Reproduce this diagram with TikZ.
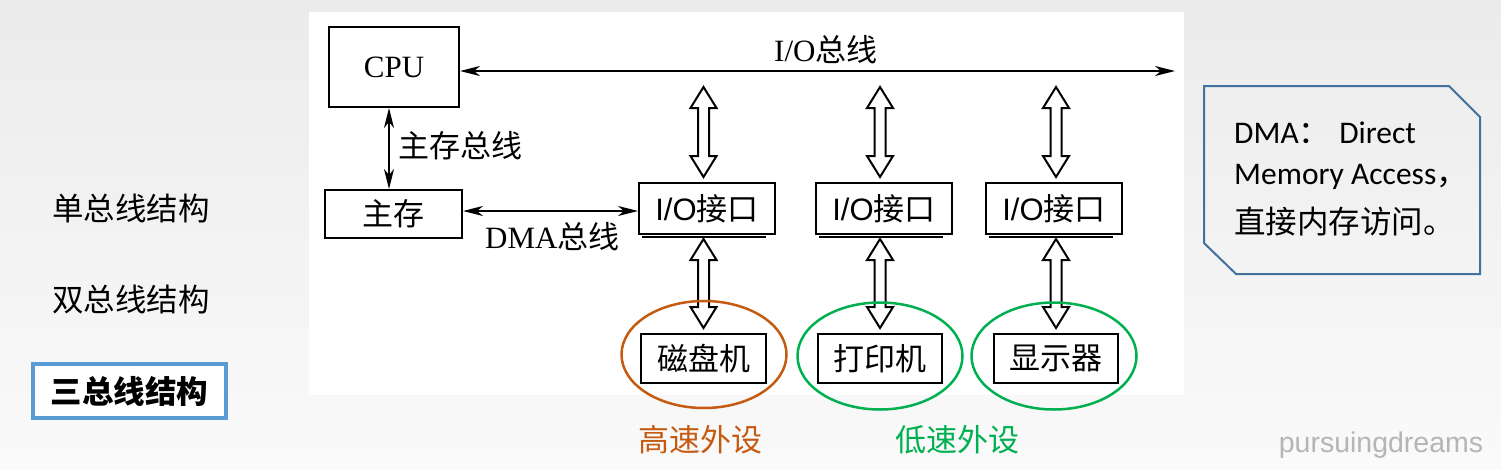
\documentclass[tikz,border=0pt]{standalone}
\usepackage{fontspec}
\setmainfont{Liberation Serif}
\newfontfamily\cjk{Noto Sans CJK SC}
\newfontfamily\sansf{Liberation Sans}
\newfontfamily\calf{Carlito}
\usetikzlibrary{arrows.meta,calc,shapes.geometric}
\definecolor{orng}{HTML}{C55A11}
\definecolor{grn}{HTML}{00B050}
\definecolor{blu}{HTML}{5B9BD5}
\definecolor{notec}{HTML}{41719C}
\definecolor{wmc}{HTML}{B5B5B5}
\newcommand\szA{\fontsize{31}{37}\selectfont}
\newcommand\hollowarr[2]{%
  \path[hollow] let \p1=#1, \p2=#2 in
   (\x1,\y1) -- (\x1+13pt,\y1-21pt) -- (\x1+5.5pt,\y1-21pt) -- (\x1+5.5pt,\y2+21pt)
   -- (\x1+13pt,\y2+21pt) -- (\x1,\y2) -- (\x1-13pt,\y2+21pt) -- (\x1-5.5pt,\y2+21pt)
   -- (\x1-5.5pt,\y1-21pt) -- (\x1-13pt,\y1-21pt) -- cycle;}
\begin{document}
\begin{tikzpicture}[x=1pt,y=-1pt,
  box/.style={draw=black,line width=2pt,fill=white,inner sep=0pt},
  lbl/.style={inner sep=0pt,font=\szA},
  conn/.style={line width=2pt,{Stealth[length=20pt,width=10pt,inset=6pt]}-{Stealth[length=20pt,width=10pt,inset=6pt]}},
  hollow/.style={draw=black,line width=2pt,fill=white,line join=miter},
  group/.style={draw,ellipse,line width=2.5pt,minimum width=165pt,minimum height=107pt,inner sep=0pt},
  menu/.style={inner sep=0pt,font=\fontsize{31.5}{37}\selectfont\cjk},
  notetxt/.style={inner sep=0pt,anchor=west,font=\fontsize{31.5}{36}\selectfont\calf}]
\useasboundingbox (0,0) rectangle (1501,469);
\shade[top color={rgb,255:red,235;green,235;blue,235},bottom color={rgb,255:red,250;green,250;blue,250}] (0,0) rectangle (1501,469);
\fill[white] (309,12) rectangle (1184,395);

% left menu
\node[menu] (m1) at (131,209) {单总线结构};
\node[menu] (m2) at (131,300) {双总线结构};
\node[menu,draw=blu,line width=4pt,fill=white,minimum width=193pt,minimum height=54pt,font=\fontsize{31.5}{37}\selectfont\cjk\bfseries] (m3) at (129.5,391) {三总线结构};

% boxes
\node[box,minimum width=130pt,minimum height=80pt,font=\szA] (cpu) at (394,67) {CPU};
\node[box,minimum width=137pt,minimum height=48pt,font=\szA\cjk] (mem) at (393.5,214) {主存};
\foreach \n/\x in {io1/707,io2/884,io3/1054}{
  \draw[line width=1.2pt] (\x-65,237) -- (\x+59,237);
  \node[box,minimum width=136pt,minimum height=51pt,font=\szA] (\n) at (\x,208.5) {{\sansf I/O}{\cjk 接口}};
}
\node[box,minimum width=125pt,minimum height=49pt,font=\szA\cjk] (dev1) at (703.5,358.5) {磁盘机};
\node[box,minimum width=124pt,minimum height=49pt,font=\szA\cjk] (dev2) at (880,358.5) {打印机};
\node[box,minimum width=124pt,minimum height=49pt,font=\szA\cjk] (dev3) at (1056,358.5) {显示器};

% buses
\coordinate (busend) at (1175,71);
\draw[conn] (cpu.east |- busend) -- (busend);
\node[lbl,anchor=west] (buslbl) at (774,50) {I/O{\cjk 总线}};
\draw[conn] ($(cpu.south)+(-5,0)$) -- ($(mem.north)+(-4.5,0)$);
\node[lbl,anchor=west,font=\szA\cjk] (memlbl) at (398,146) {主存总线};
\draw[conn] ($(mem.east)+(0,-3)$) -- ($(io1.west)+(0,2.5)$);
\node[lbl,anchor=west] (dmalbl) at (485,237) {DMA{\cjk 总线}};

% hollow double arrows
\foreach \d/\i in {dev1/io1,dev2/io2,dev3/io3}{
  \hollowarr{($(\d |- busend)+(0,16)$)}{($(\d |- \i.north)+(0,-5)$)}
  \hollowarr{($(\d |- \i.south)+(0,4)$)}{($(\d.north)+(0,-5)$)}
}

% groups
\node[group,draw=orng] (g1) at (704,354.5) {};
\node[group,draw=grn] (g2) at (880,356) {};
\node[group,draw=grn] (g3) at (1054,356) {};
\node[lbl,font=\szA\cjk,text=orng] (hs) at (700,440) {高速外设};
\node[lbl,font=\szA\cjk,text=grn] (ls) at (957,440) {低速外设};

% note
\draw[notec,line width=2pt] (1204,86) -- (1449,86) -- (1480,117) -- (1480,274) -- (1236,274) -- (1204,243) -- cycle;
\node[notetxt] (n1) at (1234,133) {DMA{\cjk ：}\hspace{9pt}Direct};
\node[notetxt] (n2) at (1234,177) {Memory Access{\cjk ，}};
\node[notetxt,font=\fontsize{31.5}{36}\selectfont\cjk] (n3) at (1234,222) {直接内存访问。};

% watermark
\node[inner sep=0pt,font=\fontsize{28.5}{34}\selectfont\sansf,text=wmc] (wm) at (1381,445) {pursuingdreams};
\end{tikzpicture}
\end{document}
